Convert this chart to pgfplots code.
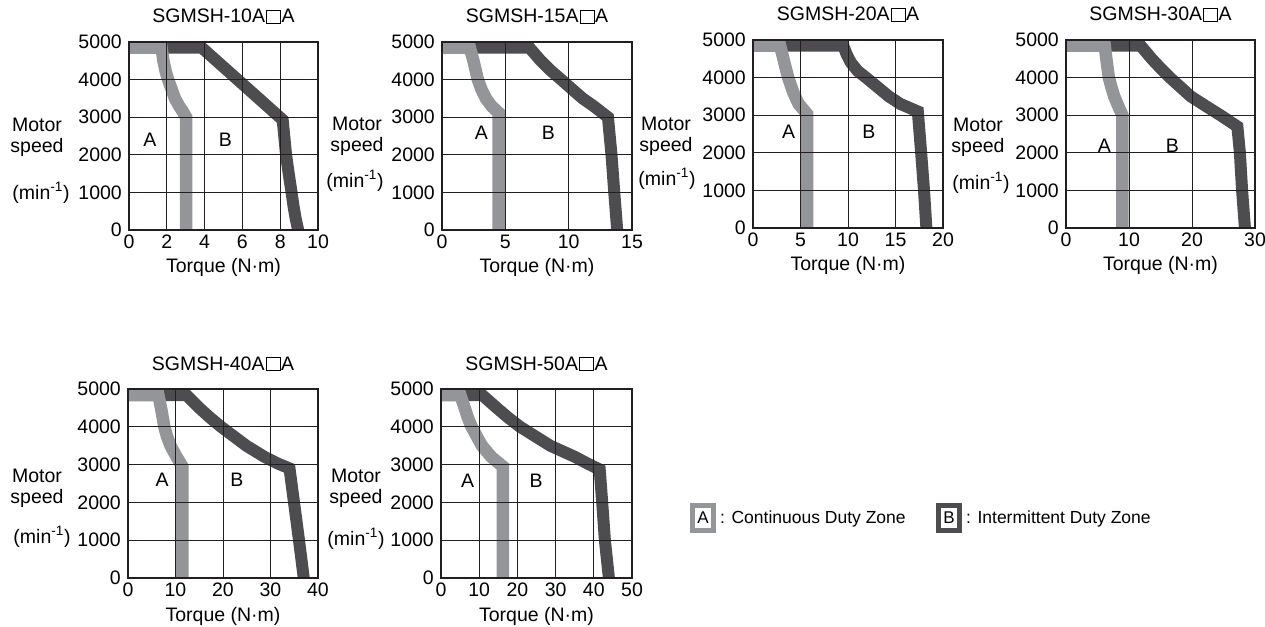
\documentclass[border=0pt]{standalone}
\usepackage{fontspec}
\setmainfont{Liberation Sans}
\usepackage{pgfplots}
\pgfplotsset{compat=1.18}
\definecolor{lightz}{RGB}{147,149,152}
\definecolor{darkz}{RGB}{77,77,79}
\definecolor{ink}{RGB}{35,31,32}
\newcommand{\sq}{\kern1pt{\fboxsep=0pt\fboxrule=1pt\fbox{\rule{0pt}{12pt}\rule{13pt}{0pt}}}\kern0.5pt}
\newcommand{\ylab}[5]{%
  \node[anchor=base] at (#1pt,-#2pt) {Motor};
  \node[anchor=base] at (#1pt,-#3pt) {speed};
  \node[anchor=base] at (#5pt,-#4pt) {(min\textsuperscript{-1})};
}
\pgfplotsset{
  mot/.style={
    anchor=north west, scale only axis,
    xmin=0, ymin=0, ymax=5000, ytick={0,1000,2000,3000,4000,5000},
    grid=major, grid style={line width=0.9pt, ink},
    axis line style={line width=2.6pt, ink},
    major tick length=0pt,
    axis on top,
    tick label style={inner sep=0pt},
    yticklabel style={anchor=east, xshift=-7pt},
    xticklabel style={anchor=north, yshift=-5pt},
    /pgf/number format/assume math mode=true,
    /pgf/number format/1000 sep={},
    scaled ticks=false,
    title style={at={(0.5,1)}, anchor=base, yshift=13pt, inner sep=0pt},
    xlabel style={at={(0.5,0)}, anchor=base, yshift=-43pt, inner sep=0pt},
    xlabel={Torque (N·m)},
  },
  lz/.style={draw=lightz, line width=12.5pt, line join=miter, miter limit=20},
  dz/.style={draw=darkz, line width=12pt, line join=miter, miter limit=20},
}
\begin{document}
\fontsize{19.5}{22}\selectfont
\begin{tikzpicture}
\useasboundingbox (0,0) rectangle (1265pt,-626pt);

% ---------- SGMSH-10A
\begin{axis}[mot, at={(129pt,-42pt)}, width=189pt, height=188pt,
  xmax=10, xtick={0,2,4,6,8,10}, title={SGMSH-10A\sq A}]
\addplot[dz] coordinates {(1.9,4850) (3.85,4850) (8.13,2930) (8.31,2000) (8.45,1500) (8.6,1000) (8.7,650) (8.82,300) (8.95,0) (9.05,-200)};
\addplot[lz] coordinates {(-1,4850) (1.72,4850) (1.82,4500) (1.95,4200) (2.07,4000) (2.25,3750) (2.43,3500) (2.65,3300) (2.85,3150) (3.02,3000) (3.02,-500)};
\node at (axis cs:1.1,2400) {A};
\node at (axis cs:5.1,2400) {B};
\end{axis}

% ---------- SGMSH-15A
\begin{axis}[mot, at={(442pt,-42pt)}, width=190pt, height=188pt,
  xmax=15, xtick={0,5,10,15}, title={SGMSH-15A\sq A}]
\addplot[dz] coordinates {(2.2,4850) (6.9,4850) (7.8,4500) (8.55,4250) (9.41,4000) (10.25,3750) (11.1,3500) (11.95,3300) (13.1,3000) (13.38,2000) (13.6,1000) (13.83,0) (13.9,-200)};
\addplot[lz] coordinates {(-1,4850) (2.2,4850) (2.48,4500) (2.83,4000) (3.1,3750) (3.46,3500) (3.9,3300) (4.47,3120) (4.47,-500)};
\node at (axis cs:3.1,2575) {A};
\node at (axis cs:8.4,2575) {B};
\end{axis}

% ---------- SGMSH-20A
\begin{axis}[mot, at={(753pt,-40pt)}, width=190pt, height=188pt,
  xmax=20, xtick={0,5,10,15,20}, title={SGMSH-20A\sq A}]
\addplot[dz] coordinates {(2.85,4850) (9.5,4850) (9.85,4620) (10.3,4400) (11.0,4180) (12.0,3980) (13.1,3750) (14.3,3500) (15.5,3300) (17.35,3100) (17.7,2000) (18.0,1000) (18.25,0) (18.3,-200)};
\addplot[lz] coordinates {(-1,4850) (2.85,4850) (3.2,4500) (3.45,4250) (3.7,4000) (4.25,3600) (4.8,3300) (5.7,3030) (5.7,-500)};
\node at (axis cs:3.75,2566) {A};
\node at (axis cs:12.2,2566) {B};
\end{axis}

% ---------- SGMSH-30A
\begin{axis}[mot, at={(1066pt,-40pt)}, width=189pt, height=188pt,
  xmax=30, xtick={0,10,20,30}, title={SGMSH-30A\sq A}]
\addplot[dz] coordinates {(6.15,4850) (11.85,4850) (13.6,4500) (15.0,4250) (16.5,4000) (19.8,3500) (22.6,3200) (24.5,3000) (27.2,2700) (27.6,2000) (27.95,1000) (28.4,0) (28.5,-200)};
\addplot[lz] coordinates {(-1,4850) (6.15,4850) (6.4,4500) (6.8,4000) (7.2,3750) (7.65,3500) (8.4,3200) (8.95,3000) (8.95,-500)};
\node at (axis cs:6.1,2176) {A};
\node at (axis cs:16.9,2176) {B};
\end{axis}

% ---------- SGMSH-40A
\begin{axis}[mot, at={(128pt,-389pt)}, width=190pt, height=189pt,
  xmax=40, xtick={0,10,20,30,40}, title={SGMSH-40A\sq A}]
\addplot[dz] coordinates {(6.4,4835) (12.35,4835) (15.0,4500) (17.2,4250) (19.6,4000) (24.9,3500) (28.8,3200) (31.5,3030) (34.0,2900) (36.0,1000) (37.0,0) (37.2,-200)};
\addplot[lz] coordinates {(-1,4835) (6.4,4835) (6.95,4500) (7.65,4000) (8.2,3750) (8.95,3500) (10.25,3200) (11.45,2950) (11.45,-500)};
\node at (axis cs:7.2,2593) {A};
\node at (axis cs:22.9,2593) {B};
\end{axis}

% ---------- SGMSH-50A
\begin{axis}[mot, at={(441pt,-389pt)}, width=191pt, height=189pt,
  xmax=50, xtick={0,10,20,30,40,50}, title={SGMSH-50A\sq A}]
\addplot[dz] coordinates {(5.1,4835) (10.85,4835) (14.6,4500) (17.5,4250) (20.7,4000) (28.6,3500) (35.15,3200) (38.5,3020) (41.55,2870) (42.2,2000) (42.9,1000) (43.95,0) (44.1,-200)};
\addplot[lz] coordinates {(-1,4835) (5.1,4835) (6.2,4500) (7.0,4250) (8.0,4000) (10.7,3500) (13.2,3200) (16.2,2950) (16.2,-500)};
\node at (axis cs:7.0,2566) {A};
\node at (axis cs:24.9,2566) {B};
\end{axis}

% ---------- y axis labels
\ylab{37}{131}{152}{199}{41}
\ylab{357}{130}{151}{187}{355}
\ylab{666}{130}{151}{185}{667}
\ylab{978}{131}{152}{189}{981}
\ylab{37}{482}{503}{543}{42}
\ylab{356}{482}{503}{545}{356}

% ---------- legend
\fill[lightz] (690pt,-503pt) rectangle (716pt,-533pt);
\fill[white] (695pt,-508pt) rectangle (711pt,-528pt);
\node[font=\fontsize{17}{20}\selectfont] at (703pt,-518pt) {A};
\node[anchor=base west, inner sep=0pt, font=\fontsize{17.5}{20}\selectfont] at (720pt,-523pt) {: Continuous Duty Zone};
\fill[darkz] (936pt,-503pt) rectangle (962pt,-533pt);
\fill[white] (941pt,-508pt) rectangle (957pt,-528pt);
\node[font=\fontsize{17}{20}\selectfont] at (949pt,-518pt) {B};
\node[anchor=base west, inner sep=0pt, font=\fontsize{17.5}{20}\selectfont] at (966pt,-523pt) {: Intermittent Duty Zone};
\end{tikzpicture}
\end{document}
